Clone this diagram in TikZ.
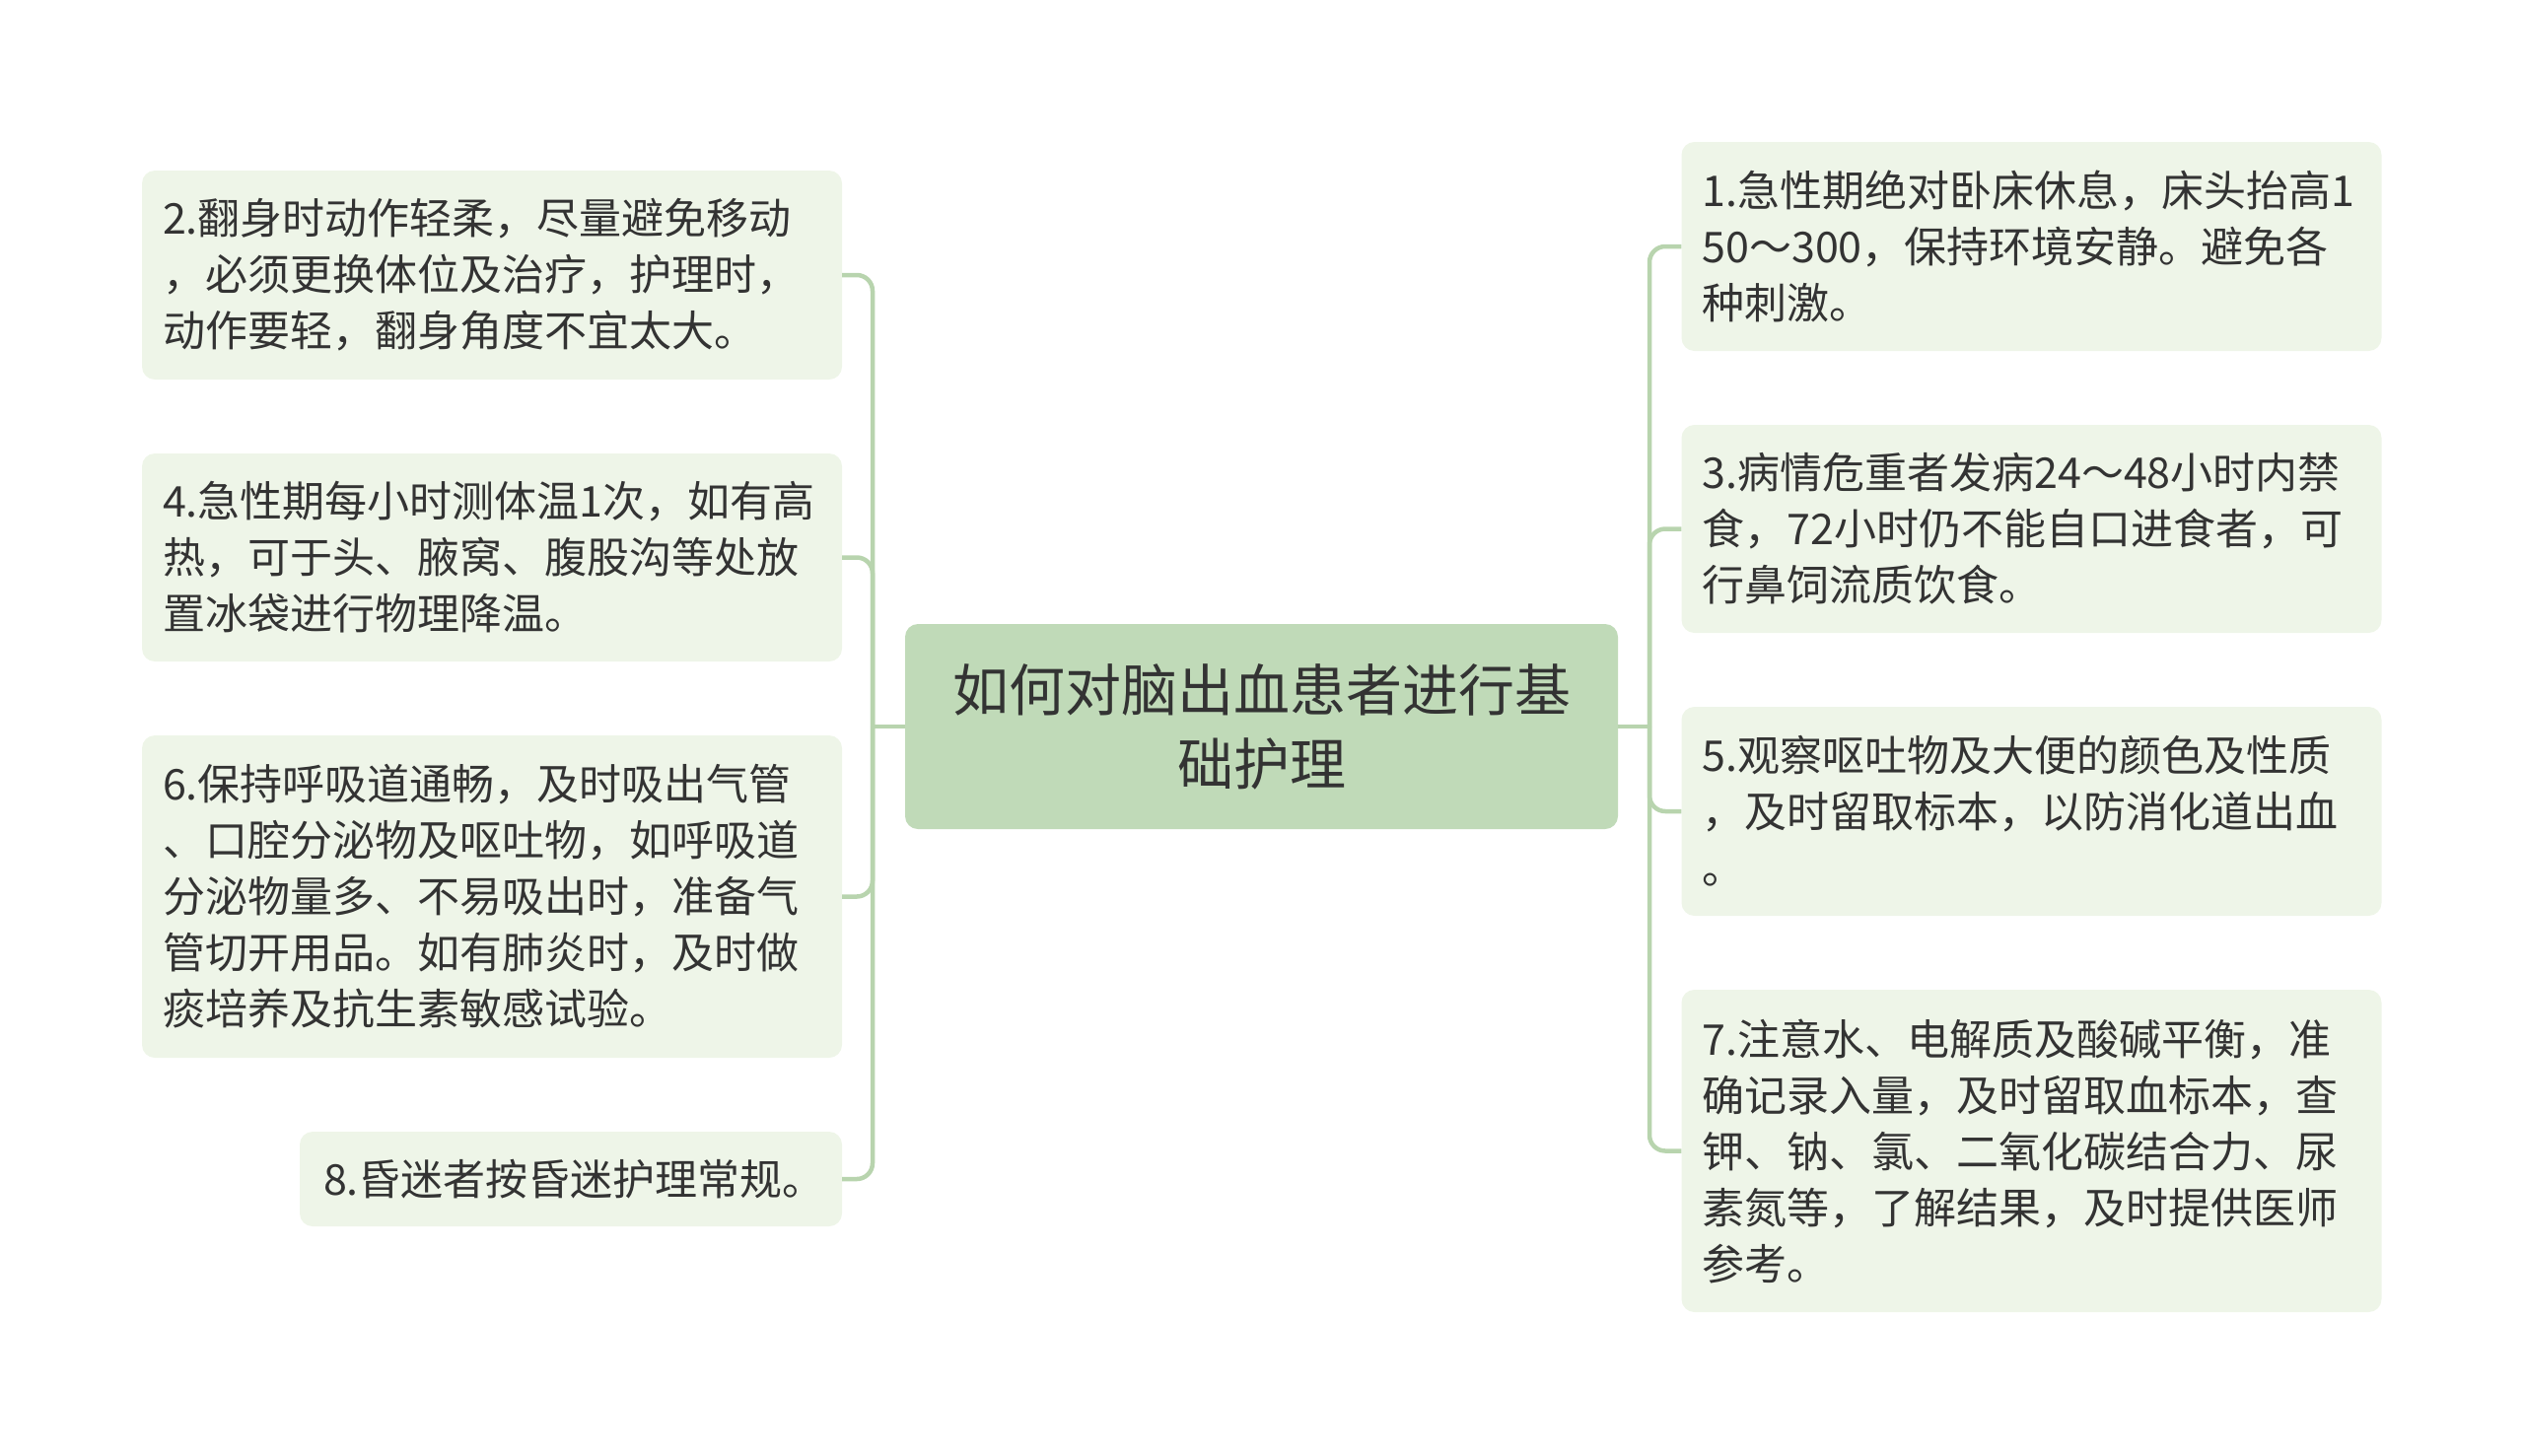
\documentclass[tikz,border=0pt]{standalone}
\usepackage{fontspec}
\newfontfamily\cjk{Noto Sans CJK SC}
\usetikzlibrary{calc}
\definecolor{rootfill}{HTML}{C0DAB8}
\definecolor{leaffill}{HTML}{EEF5E8}
\definecolor{linkgreen}{HTML}{B8D4AE}
\definecolor{textgray}{HTML}{333333}
\newcommand{\leftleafx}{499}
\newcommand{\rightleafx}{2060.5}
\newcommand{\lefttrunkx}{885}
\newcommand{\righttrunkx}{1673}
\newcommand{\rooty}{737}
\newcommand{\leafwidth}{668pt}
\newcommand{\leafpad}{21pt}

\begin{document}
\begin{tikzpicture}[x=1pt,y=-1pt]
\tikzstyle{leaf}=[fill=leaffill,rounded corners=13pt,text=textgray,align=left,text width=\leafwidth,inner xsep=\leafpad,inner ysep=0pt,font=\cjk\fontsize{43pt}{57pt}\selectfont]
\tikzstyle{root}=[fill=rootfill,rounded corners=13pt,text=textgray,align=center,text width=680pt,minimum width=723pt,minimum height=208pt,inner ysep=0pt,font=\cjk\fontsize{57pt}{75pt}\selectfont]
\tikzstyle{link}=[draw=linkgreen,line width=4.5pt,rounded corners=16pt]

\useasboundingbox (0,0) rectangle (2560,1476);

%% central topic
\node (title) [root] at (1279.5,\rooty) {如何对脑出血患者进行基\\础护理};

%% left side
\node (N2) [leaf,minimum height=212pt] at (\leftleafx,279) {2.翻身时动作轻柔，尽量避免移动\\，必须更换体位及治疗，护理时，\\动作要轻，翻身角度不宜太大。};
\node (N4) [leaf,minimum height=211pt] at (\leftleafx,565.5) {4.急性期每小时测体温1次，如有高\\热，可于头、腋窝、腹股沟等处放\\置冰袋进行物理降温。};
\node (N6) [leaf,minimum height=327pt] at (\leftleafx,909.5) {6.保持呼吸道通畅，及时吸出气管\\、口腔分泌物及呕吐物，如呼吸道\\分泌物量多、不易吸出时，准备气\\管切开用品。如有肺炎时，及时做\\痰培养及抗生素敏感试验。};
\node (N8) [leaf,minimum height=96pt,text width=502pt,inner xsep=24pt] at (579,1196) {8.昏迷者按昏迷护理常规。};

%% right side
\node (N1) [leaf,minimum height=212pt] at (\rightleafx,250) {1.急性期绝对卧床休息，床头抬高1\\50～300，保持环境安静。避免各\\种刺激。};
\node (N3) [leaf,minimum height=211pt] at (\rightleafx,536.5) {3.病情危重者发病24～48小时内禁\\食，72小时仍不能自口进食者，可\\行鼻饲流质饮食。};
\node (N5) [leaf,minimum height=212pt] at (\rightleafx,823) {5.观察呕吐物及大便的颜色及性质\\，及时留取标本，以防消化道出血\\。};
\node (N7) [leaf,minimum height=327pt] at (\rightleafx,1167.5) {7.注意水、电解质及酸碱平衡，准\\确记录入量，及时留取血标本，查\\钾、钠、氯、二氧化碳结合力、尿\\素氮等，了解结果，及时提供医师\\参考。};

%% connectors
\coordinate (ltrunk) at (\lefttrunkx,\rooty);
\coordinate (rtrunk) at (\righttrunkx,\rooty);
\draw[link] (title.west) -- (ltrunk);
\draw[link] (title.east) -- (rtrunk);
\foreach \n in {N2,N4,N6,N8}
  \draw[link] (ltrunk) |- (\n.east);
\foreach \n in {N1,N3,N5,N7}
  \draw[link] (rtrunk) |- (\n.west);

\end{tikzpicture}
\end{document}
